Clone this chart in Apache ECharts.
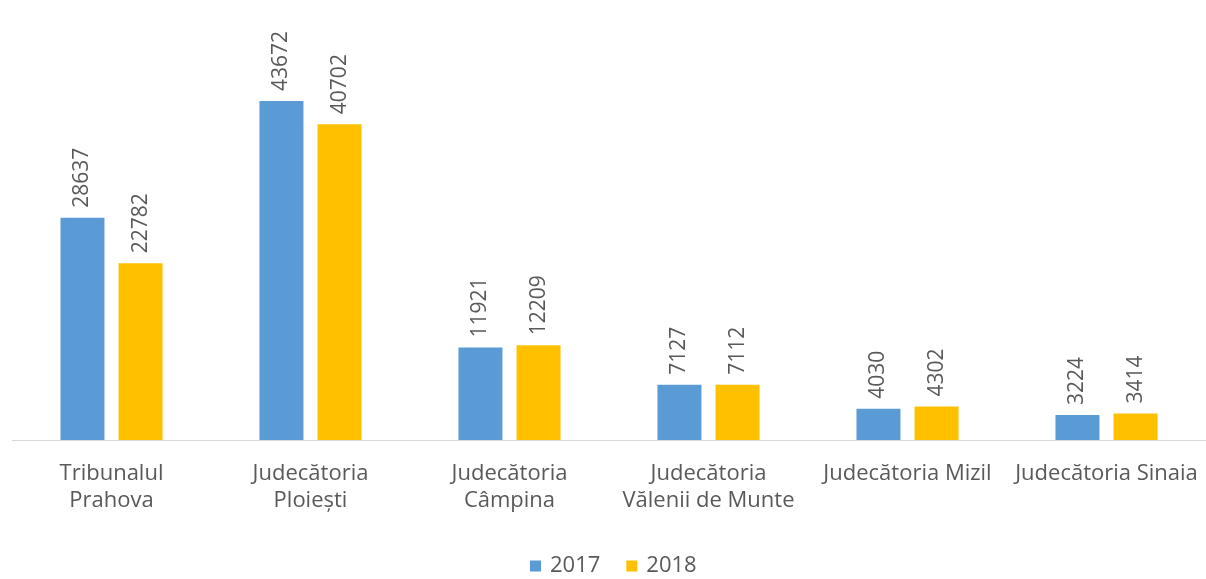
<!DOCTYPE html>
<html>
<head>
<meta charset="utf-8">
<script src="https://cdn.jsdelivr.net/npm/echarts@6/dist/echarts.min.js"></script>
<style>
	html, body { margin: 0; padding: 0; background: #fff; }
	#chart { width: 1206px; height: 579px; }
</style>
</head>
<body>
<div id="chart"></div>
<script>
var categories = [
	'Tribunalul\nPrahova',
	'Judecătoria\nPloiești',
	'Judecătoria\nCâmpina',
	'Judecătoria\nVălenii de Munte',
	'Judecătoria Mizil',
	'Judecătoria Sinaia'
];
var values2017 = [28637, 43672, 11921, 7127, 4030, 3224];
var values2018 = [22782, 40702, 12209, 7112, 4302, 3414];

var chartColors = {
	blue: '#5b9bd5',
	yellow: '#ffc000',
	text: '#595959',
	axisLine: '#d9d9d9'
};

var fontFamily = 'Open Sans, Noto Sans, sans-serif';

var valueLabel = {
	show: true,
	position: 'top',
	rotate: 90,
	align: 'left',
	verticalAlign: 'middle',
	distance: 10,
	fontSize: 21,
	fontFamily: fontFamily,
	color: chartColors.text
};

var echart = echarts.init(document.getElementById('chart'));

echart.setOption({
	animation: false,
	grid: {
		left: 12,
		right: 0,
		top: 52,
		bottom: 139
	},
	legend: {
		top: 550,
		left: 525,
		itemWidth: 11,
		itemHeight: 11,
		itemGap: 26,
		icon: 'rect',
		textStyle: {
			fontSize: 22,
			fontFamily: fontFamily,
			color: chartColors.text,
			padding: [0, 0, 0, 4]
		},
		data: ['2017', '2018']
	},
	xAxis: {
		type: 'category',
		data: categories,
		axisTick: { show: false },
		axisLine: {
			show: true,
			lineStyle: { color: chartColors.axisLine, width: 1 }
		},
		axisLabel: {
			interval: 0,
			margin: 20,
			fontSize: 22,
			lineHeight: 27,
			fontFamily: fontFamily,
			color: chartColors.text
		}
	},
	yAxis: {
		type: 'value',
		min: 0,
		max: 50000,
		show: false,
		splitLine: { show: false }
	},
	series: [
		{
			name: '2017',
			type: 'bar',
			data: values2017,
			barWidth: 44,
			barGap: '32%',
			itemStyle: { color: chartColors.blue },
			label: valueLabel
		},
		{
			name: '2018',
			type: 'bar',
			data: values2018,
			barWidth: 44,
			itemStyle: { color: chartColors.yellow },
			label: valueLabel
		}
	]
});
</script>
</body>
</html>
